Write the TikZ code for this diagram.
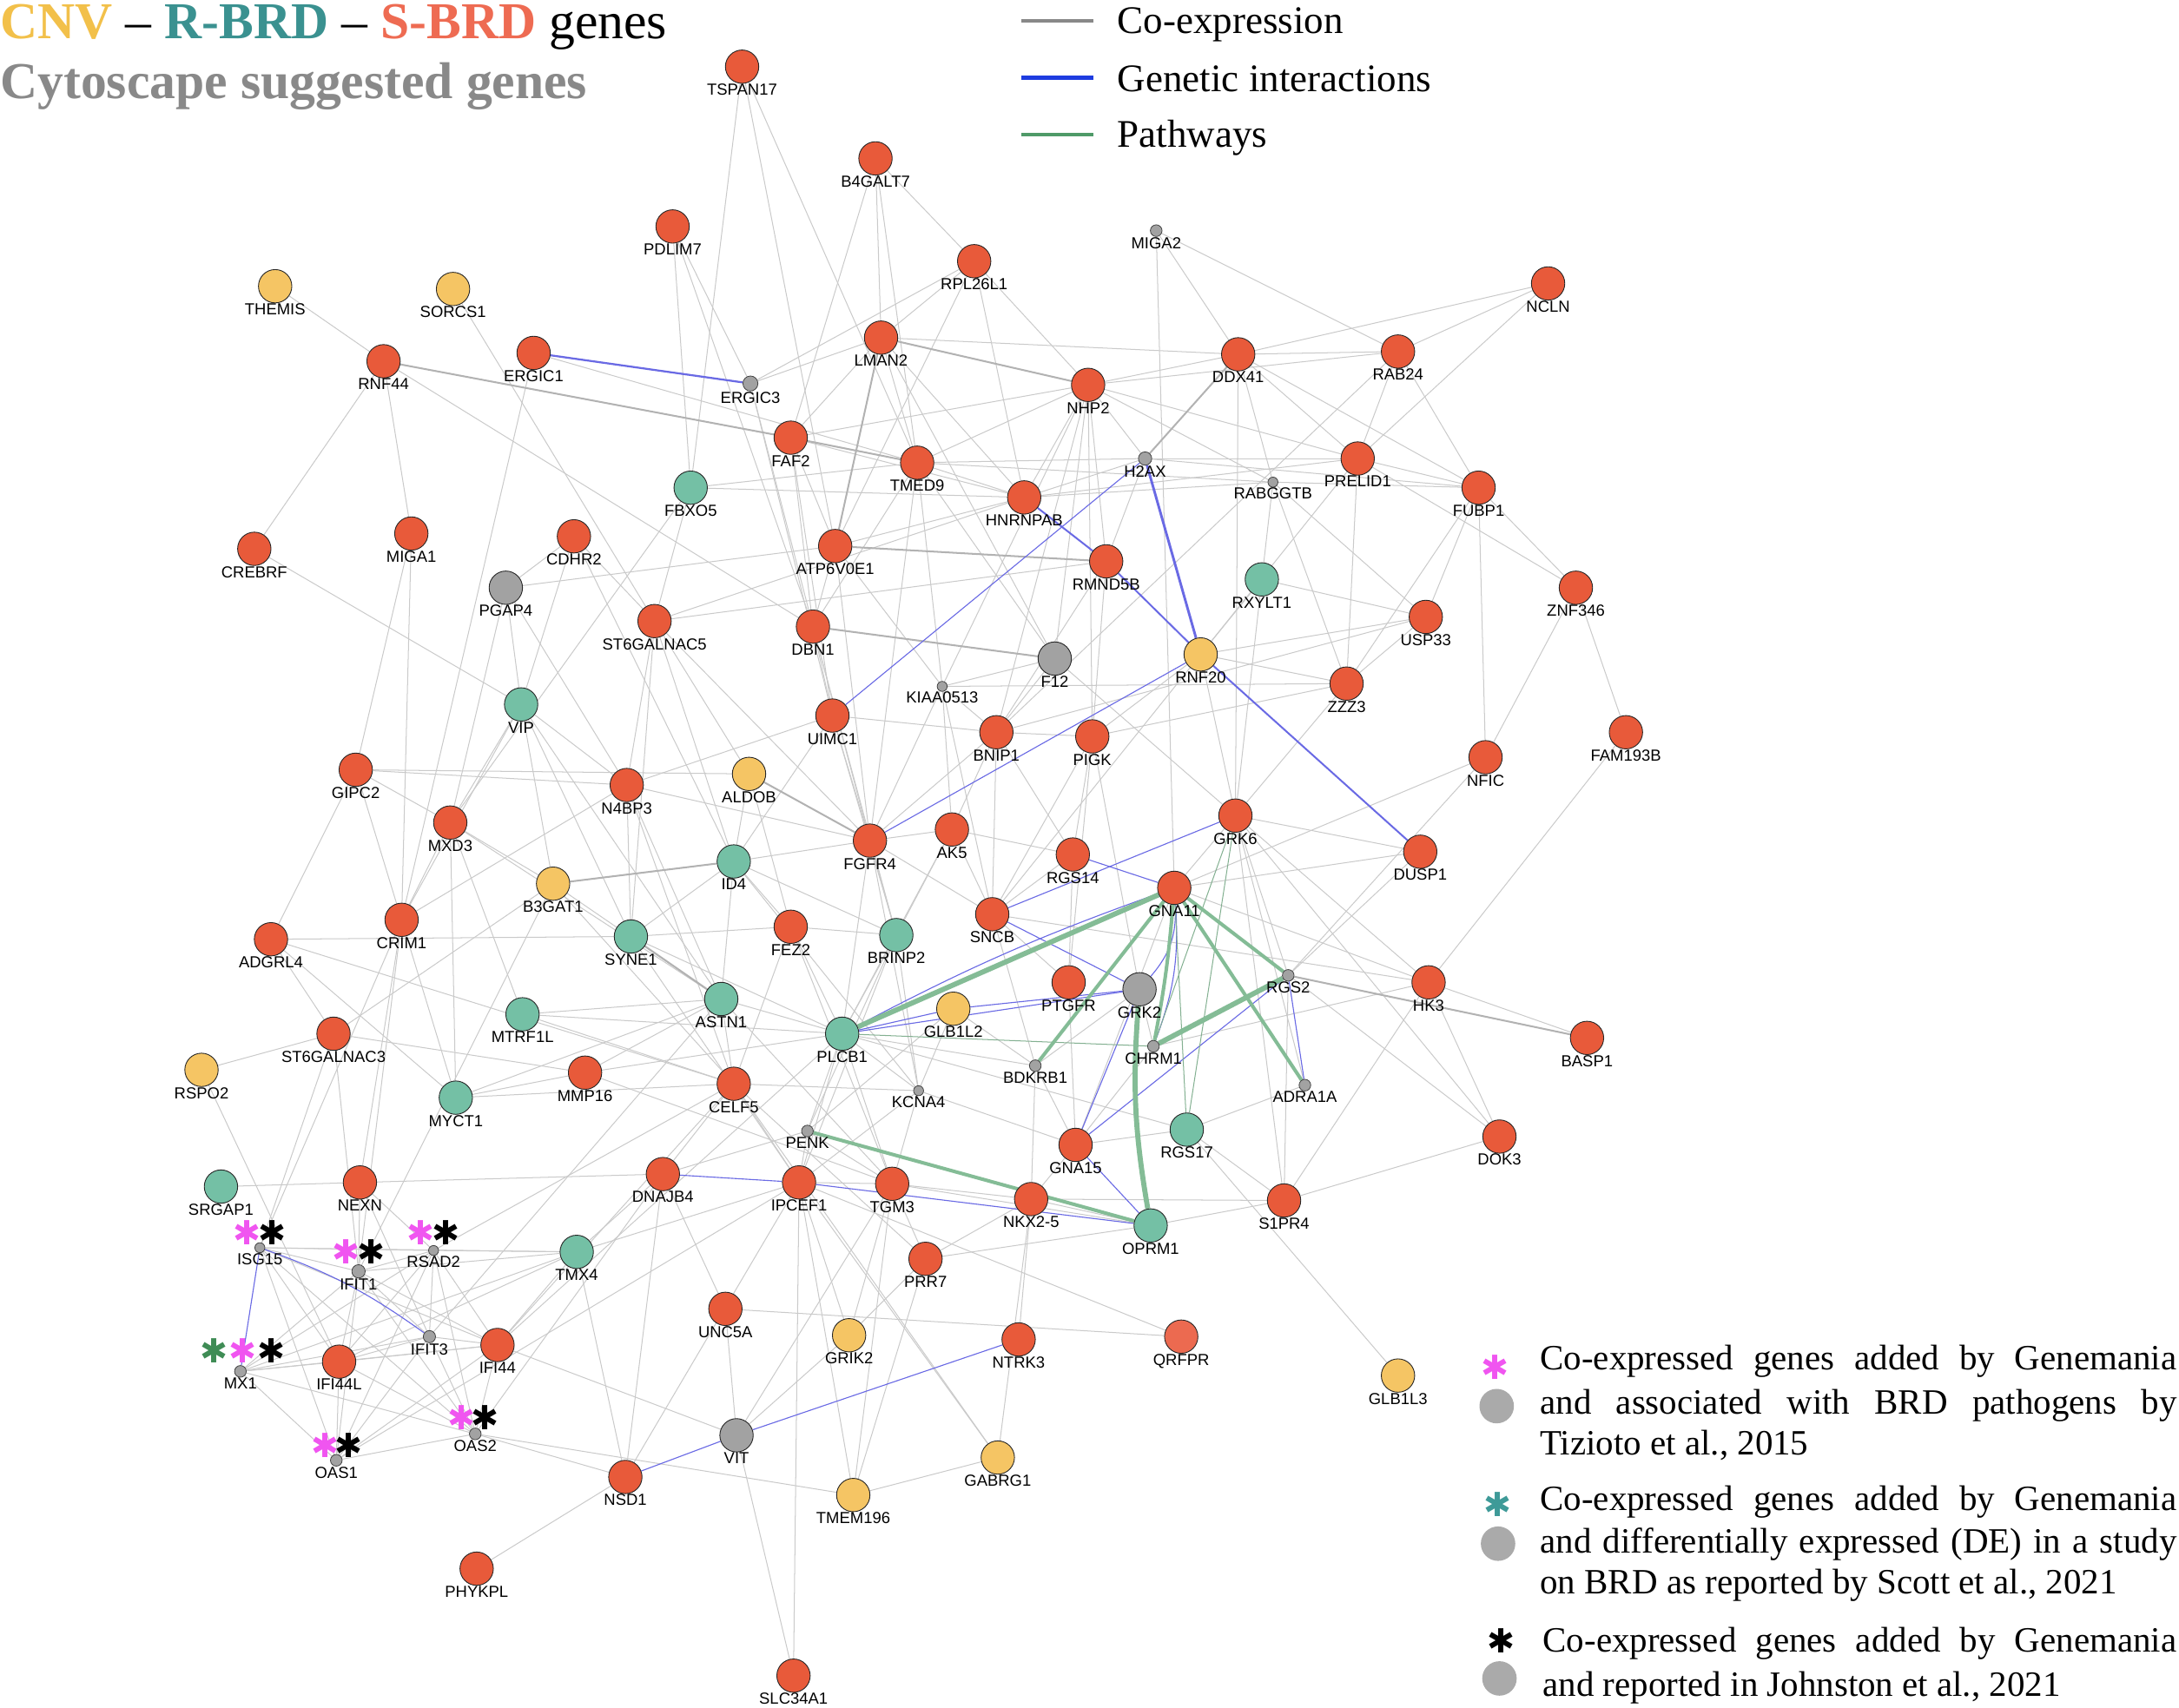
\documentclass[tikz,border=0pt]{standalone}
\usepackage{fontspec}
\setmainfont{Liberation Serif}
\newfontfamily\labfont{Liberation Sans}
\newfontfamily\symfont{DejaVu Sans}
\usetikzlibrary{backgrounds}
\definecolor{sred}{HTML}{E85A3A}
\definecolor{sredl}{HTML}{EC6A50}
\definecolor{rteal}{HTML}{74C0A5}
\definecolor{cyel}{HTML}{F5C564}
\definecolor{ngray}{HTML}{A2A2A2}
\definecolor{lgray}{HTML}{AAAAAA}
\definecolor{ecol}{HTML}{CACACA}
\definecolor{ecold}{HTML}{B2B2B2}
\definecolor{gblue}{HTML}{6A6AE4}
\definecolor{pgreen}{HTML}{84BC96}
\definecolor{tcnv}{HTML}{F2C04A}
\definecolor{trbrd}{HTML}{3A9190}
\definecolor{tsbrd}{HTML}{EE6B52}
\definecolor{tcyto}{HTML}{898989}
\definecolor{amag}{HTML}{F055F0}
\definecolor{ateal}{HTML}{3E9A98}
\definecolor{agreen}{HTML}{3F8C55}
\definecolor{leggray}{HTML}{888888}
\definecolor{legblue}{HTML}{1E3CE0}
\definecolor{leggreen}{HTML}{4F9A68}
\tikzset{
  lab/.style={font=\labfont\fontsize{8.2}{9}\selectfont, inner sep=0pt},
  gene/.style={circle, draw=black!85, line width=0.4pt, minimum size=0.6cm, inner sep=0pt, label distance=0.09cm},
  sr/.style={gene, fill=sred},
  srl/.style={gene, fill=sredl},
  rt/.style={gene, fill=rteal},
  cy/.style={gene, fill=cyel},
  gb/.style={gene, fill=ngray},
  gd/.style={circle, draw=black!75, line width=0.35pt, fill=ngray, minimum size=0.21cm, inner sep=0pt, label distance=0.09cm},
  co/.style={draw=ecol, line width=0.45pt},
  cot/.style={draw=ecold, line width=0.9pt},
  gi/.style={draw=gblue, line width=0.5pt},
  git/.style={draw=gblue, line width=1.3pt},
  pw/.style={draw=pgreen, line width=1.8pt},
  pwt/.style={draw=pgreen, line width=2.6pt},
  pwn/.style={draw=pgreen!80!gray, line width=0.45pt},
  ast/.style={font=\symfont\fontsize{17}{17}\selectfont, inner sep=0pt},
  legtxt/.style={font=\fontsize{18.2}{21}\selectfont, inner sep=0pt, anchor=base west},
  legline/.style={line width=2pt},
}
\newcommand\gnode[4]{\node[#1, label={[lab]below:#4}] (#2) at (#3) {};}
\begin{document}
\begin{tikzpicture}[x=0.025cm, y=-0.025cm]
\useasboundingbox (0,0) rectangle (1568,1229);
% ---------------- titles
\node[anchor=base west, inner sep=0pt, font=\fontsize{26.5}{30}\selectfont] (t1) at (0,28)
  {\textbf{\color{tcnv}CNV} – \textbf{\color{trbrd}R-BRD} – \textbf{\color{tsbrd}S-BRD} genes};
\node[anchor=base west, inner sep=0pt, font=\bfseries\fontsize{26.5}{30}\selectfont, text=tcyto] (t2) at (0,71)
  {Cytoscape suggested genes};
% ---------------- top legend
\coordinate (la1) at (735,15); \coordinate (lb1) at (787,15);
\coordinate (la2) at (735,56); \coordinate (lb2) at (787,56);
\coordinate (la3) at (735,97); \coordinate (lb3) at (787,97);
\draw[legline, leggray] (la1) -- (lb1);
\draw[legline, legblue] (la2) -- (lb2);
\draw[legline, leggreen] (la3) -- (lb3);
\node[anchor=base west, inner sep=0pt, font=\fontsize{20}{22}\selectfont] (lt1) at (804,24) {Co-expression};
\node[anchor=base west, inner sep=0pt, font=\fontsize{20}{22}\selectfont] (lt2) at (804,66) {Genetic interactions};
\node[anchor=base west, inner sep=0pt, font=\fontsize{20}{22}\selectfont] (lt3) at (804,106) {Pathways};
% ---------------- genes
\gnode{sr}{TSPAN17}{534,48}{TSPAN17}
\gnode{sr}{B4GALT7}{630,114}{B4GALT7}
\gnode{sr}{PDLIM7}{484,163}{PDLIM7}
\gnode{sr}{RPL26L1}{701,188}{RPL26L1}
\gnode{gd}{MIGA2}{832,166}{MIGA2}
\gnode{sr}{NCLN}{1114,204}{NCLN}
\gnode{cy}{THEMIS}{198,206}{THEMIS}
\gnode{cy}{SORCS1}{326,208}{SORCS1}
\gnode{sr}{RNF44}{276,260}{RNF44}
\gnode{sr}{ERGIC1}{384,254}{ERGIC1}
\gnode{gd,minimum size=0.27cm}{ERGIC3}{540,276}{ERGIC3}
\gnode{sr}{LMAN2}{634,243}{LMAN2}
\gnode{sr}{DDX41}{891,255}{DDX41}
\gnode{sr}{RAB24}{1006,253}{RAB24}
\gnode{sr}{NHP2}{783,277}{NHP2}
\gnode{sr}{FAF2}{569,315}{FAF2}
\gnode{sr}{TMED9}{660,333}{TMED9}
\gnode{gd,minimum size=0.24cm}{H2AX}{824,330}{H2AX}
\gnode{sr}{PRELID1}{977,330}{PRELID1}
\gnode{sr}{FUBP1}{1064,351}{FUBP1}
\gnode{rt}{FBXO5}{497,351}{FBXO5}
\gnode{sr}{HNRNPAB}{737,358}{HNRNPAB}
\gnode{gd,minimum size=0.18cm}{RABGGTB}{916,347}{RABGGTB}
\gnode{sr}{CREBRF}{183,395}{CREBRF}
\gnode{sr}{MIGA1}{296,384}{MIGA1}
\gnode{sr}{CDHR2}{413,386}{CDHR2}
\gnode{sr}{ATP6V0E1}{601,393}{ATP6V0E1}
\gnode{sr}{RMND5B}{796,404}{RMND5B}
\gnode{rt}{RXYLT1}{908,417}{RXYLT1}
\gnode{sr}{ZNF346}{1134,423}{ZNF346}
\gnode{gb}{PGAP4}{364,423}{PGAP4}
\gnode{sr}{ST6GALNAC5}{471,447}{ST6GALNAC5}
\gnode{sr}{DBN1}{585,451}{DBN1}
\gnode{sr}{USP33}{1026,444}{USP33}
\gnode{gb}{F12}{759,474}{F12}
\gnode{cy}{RNF20}{864,471}{RNF20}
\gnode{sr}{ZZZ3}{969,492}{ZZZ3}
\gnode{gd,minimum size=0.18cm}{KIAA0513}{678,494}{KIAA0513}
\gnode{rt}{VIP}{375,507}{VIP}
\gnode{sr}{UIMC1}{599,515}{UIMC1}
\gnode{sr}{BNIP1}{717,527}{BNIP1}
\gnode{sr}{PIGK}{786,530}{PIGK}
\gnode{sr}{FAM193B}{1170,527}{FAM193B}
\gnode{sr}{NFIC}{1069,545}{NFIC}
\gnode{sr}{GIPC2}{256,554}{GIPC2}
\gnode{cy}{ALDOB}{539,557}{ALDOB}
\gnode{sr}{N4BP3}{451,565}{N4BP3}
\gnode{sr}{MXD3}{324,592}{MXD3}
\gnode{sr}{GRK6}{889,587}{GRK6}
\gnode{sr}{FGFR4}{626,605}{FGFR4}
\gnode{sr}{AK5}{685,597}{AK5}
\gnode{sr}{RGS14}{772,615}{RGS14}
\gnode{sr}{DUSP1}{1022,613}{DUSP1}
\gnode{rt}{ID4}{528,620}{ID4}
\gnode{cy}{B3GAT1}{398,636}{B3GAT1}
\gnode{sr}{GNA11}{845,639}{GNA11}
\gnode{sr}{CRIM1}{289,662}{CRIM1}
\gnode{rt}{SYNE1}{454,674}{SYNE1}
\gnode{sr}{FEZ2}{569,667}{FEZ2}
\gnode{sr}{SNCB}{714,658}{SNCB}
\gnode{rt}{BRINP2}{645,673}{BRINP2}
\gnode{sr}{ADGRL4}{195,676}{ADGRL4}
\gnode{gd}{RGS2}{927,702}{RGS2}
\gnode{gb}{GRK2}{820,712}{GRK2}
\gnode{sr}{PTGFR}{769,707}{PTGFR}
\gnode{sr}{HK3}{1028,707}{HK3}
\gnode{rt}{ASTN1}{519,719}{ASTN1}
\gnode{rt}{MTRF1L}{376,730}{MTRF1L}
\gnode{cy}{GLB1L2}{686,726}{GLB1L2}
\gnode{rt}{PLCB1}{606,744}{PLCB1}
\gnode{sr}{ST6GALNAC3}{240,744}{ST6GALNAC3}
\gnode{gd}{CHRM1}{830,753}{CHRM1}
\gnode{sr}{BASP1}{1142,747}{BASP1}
\gnode{gd}{BDKRB1}{745,767}{BDKRB1}
\gnode{cy}{RSPO2}{145,770}{RSPO2}
\gnode{sr}{MMP16}{421,772}{MMP16}
\gnode{gd}{ADRA1A}{939,781}{ADRA1A}
\gnode{rt}{MYCT1}{328,790}{MYCT1}
\gnode{sr}{CELF5}{528,780}{CELF5}
\gnode{gd,minimum size=0.18cm}{KCNA4}{661,785}{KCNA4}
\gnode{gd}{PENK}{581,814}{PENK}
\gnode{rt}{RGS17}{854,813}{RGS17}
\gnode{sr}{DOK3}{1079,818}{DOK3}
\gnode{sr}{GNA15}{774,824}{GNA15}
\gnode{rt}{SRGAP1}{159,854}{SRGAP1}
\gnode{sr}{NEXN}{259,851}{NEXN}
\gnode{sr}{DNAJB4}{477,845}{DNAJB4}
\gnode{sr}{IPCEF1}{575,851}{IPCEF1}
\gnode{sr}{TGM3}{642,852}{TGM3}
\gnode{sr}{NKX25}{742,863}{NKX2-5}
\gnode{sr}{S1PR4}{924,864}{S1PR4}
\gnode{rt}{OPRM1}{828,882}{OPRM1}
\gnode{gd,minimum size=0.18cm}{ISG15}{187,898}{ISG15}
\gnode{gd,minimum size=0.18cm}{RSAD2}{312,900}{RSAD2}
\gnode{gd,minimum size=0.24cm}{IFIT1}{258,915}{IFIT1}
\gnode{rt}{TMX4}{415,901}{TMX4}
\gnode{sr}{PRR7}{666,906}{PRR7}
\gnode{gd,minimum size=0.22cm}{IFIT3}{309,962}{IFIT3}
\gnode{sr}{UNC5A}{522,942}{UNC5A}
\gnode{sr}{IFI44L}{244,980}{IFI44L}
\gnode{sr}{IFI44}{358,968}{IFI44}
\gnode{gd}{MX1}{173,987}{MX1}
\gnode{cy}{GRIK2}{611,961}{GRIK2}
\gnode{sr}{NTRK3}{733,964}{NTRK3}
\gnode{srl}{QRFPR}{850,962}{QRFPR}
\gnode{cy}{GLB1L3}{1006,990}{GLB1L3}
\gnode{gd}{OAS2}{342,1032}{OAS2}
\gnode{gb}{VIT}{530,1033}{VIT}
\gnode{gd}{OAS1}{242,1051}{OAS1}
\gnode{sr}{NSD1}{450,1063}{NSD1}
\gnode{cy}{GABRG1}{718,1049}{GABRG1}
\gnode{cy}{TMEM196}{614,1076}{TMEM196}
\gnode{sr}{PHYKPL}{343,1129}{PHYKPL}
\gnode{sr}{SLC34A1}{571,1206}{SLC34A1}
% ---------------- asterisks on genes
\node[ast, text=amag] (aISG15m) at (178,887) {✱};
\node[ast, text=black] (aISG15k) at (196,887) {✱};
\node[ast, text=amag] (aIFIT1m) at (249,901) {✱};
\node[ast, text=black] (aIFIT1k) at (267,901) {✱};
\node[ast, text=amag] (aRSAD2m) at (303,887) {✱};
\node[ast, text=black] (aRSAD2k) at (321,887) {✱};
\node[ast, text=agreen] (aMX1g) at (154,972) {✱};
\node[ast, text=amag] (aMX1m) at (175,972) {✱};
\node[ast, text=black] (aMX1k) at (195,972) {✱};
\node[ast, text=amag] (aOAS2m) at (332,1020) {✱};
\node[ast, text=black] (aOAS2k) at (349,1020) {✱};
\node[ast, text=amag] (aOAS1m) at (234,1040) {✱};
\node[ast, text=black] (aOAS1k) at (251,1040) {✱};
% ---------------- bottom-right legend
\node[ast, text=amag] (m1) at (1076,984) {✱};
\node[circle, fill=lgray, minimum size=0.62cm, inner sep=0pt] (c1) at (1077,1012) {};
\node[ast, text=ateal] (m2) at (1078,1083) {✱};
\node[circle, fill=lgray, minimum size=0.62cm, inner sep=0pt] (c2) at (1078,1111) {};
\node[ast, text=black] (m3) at (1080,1181) {✱};
\node[circle, fill=lgray, minimum size=0.62cm, inner sep=0pt] (c3) at (1079,1208) {};
\node[legtxt] (b1) at (1108,986) {\makebox[11.45cm][s]{Co-expressed genes added by Genemania}};
\node[legtxt] (b2) at (1108,1018) {\makebox[11.45cm][s]{and associated with BRD pathogens by}};
\node[legtxt] (b3) at (1108,1047) {Tizioto et al., 2015};
\node[legtxt] (b4) at (1108,1087) {\makebox[11.45cm][s]{Co-expressed genes added by Genemania}};
\node[legtxt] (b5) at (1108,1118) {\makebox[11.45cm][s]{and differentially expressed (DE) in a study}};
\node[legtxt] (b6) at (1108,1147) {on BRD as reported by Scott et al., 2021};
\node[legtxt] (b7) at (1110,1189) {\makebox[11.4cm][s]{Co-expressed genes added by Genemania}};
\node[legtxt] (b8) at (1110,1221) {and reported in Johnston et al., 2021};
% ---------------- edges
\begin{pgfonlayer}{background}
\foreach \a/\b in {
 TSPAN17/FBXO5, TSPAN17/TMED9, TSPAN17/ATP6V0E1,
 B4GALT7/LMAN2, B4GALT7/RPL26L1, B4GALT7/TMED9, B4GALT7/FAF2,
 PDLIM7/FBXO5, PDLIM7/ERGIC3, PDLIM7/DBN1,
 RPL26L1/LMAN2, RPL26L1/NHP2, RPL26L1/ERGIC3, RPL26L1/HNRNPAB, RPL26L1/ATP6V0E1,
 MIGA2/DDX41, MIGA2/RAB24, MIGA2/GNA11,
 NCLN/DDX41, NCLN/RAB24, NCLN/PRELID1,
 THEMIS/RNF44, SORCS1/ST6GALNAC5,
 RNF44/CREBRF, RNF44/MIGA1, RNF44/DBN1,
 ERGIC1/TMED9, ERGIC1/CRIM1,
 ERGIC3/LMAN2, ERGIC3/DBN1, ERGIC3/UIMC1,
 LMAN2/FAF2, LMAN2/TMED9, LMAN2/F12, LMAN2/HNRNPAB,
 DDX41/RAB24, DDX41/PRELID1, DDX41/NHP2, DDX41/GRK6, DDX41/LMAN2, DDX41/RABGGTB, DDX41/FUBP1,
 RAB24/PRELID1, RAB24/FUBP1, RAB24/NHP2, RAB24/BNIP1,
 NHP2/FAF2, NHP2/HNRNPAB, NHP2/RMND5B, NHP2/TMED9, NHP2/KIAA0513, NHP2/F12, NHP2/PRELID1,
 NHP2/H2AX, NHP2/BNIP1, NHP2/PIGK,
 FAF2/HNRNPAB, FAF2/DBN1, FAF2/ATP6V0E1, FAF2/UIMC1,
 TMED9/H2AX, TMED9/HNRNPAB, TMED9/FBXO5, TMED9/DBN1, TMED9/F12, TMED9/KIAA0513, TMED9/RABGGTB, TMED9/FGFR4,
 H2AX/HNRNPAB, H2AX/RMND5B, H2AX/PRELID1, H2AX/FUBP1,
 PRELID1/FUBP1, PRELID1/ZZZ3, PRELID1/ZNF346, PRELID1/RNF20, PRELID1/HNRNPAB,
 FUBP1/RABGGTB, FUBP1/USP33, FUBP1/ZZZ3, FUBP1/ZNF346, FUBP1/NFIC,
 FBXO5/HNRNPAB, FBXO5/ST6GALNAC5, FBXO5/MXD3,
 HNRNPAB/ATP6V0E1, HNRNPAB/ST6GALNAC5, HNRNPAB/RABGGTB,
 RABGGTB/RXYLT1, RABGGTB/ZZZ3, RABGGTB/USP33, RABGGTB/NHP2,
 CREBRF/VIP, MIGA1/GIPC2, MIGA1/CRIM1,
 CDHR2/PGAP4, CDHR2/ST6GALNAC5, CDHR2/VIP, CDHR2/ID4,
 ATP6V0E1/DBN1, ATP6V0E1/FGFR4, ATP6V0E1/PGAP4, ATP6V0E1/KIAA0513,
 RMND5B/ST6GALNAC5, RMND5B/PIGK, RMND5B/BNIP1,
 RXYLT1/USP33, RXYLT1/RNF20, RXYLT1/GRK6,
 ZNF346/NFIC, ZNF346/FAM193B,
 PGAP4/VIP, PGAP4/N4BP3, PGAP4/MXD3,
 ST6GALNAC5/N4BP3, ST6GALNAC5/ID4, ST6GALNAC5/FGFR4, ST6GALNAC5/SYNE1, ST6GALNAC5/ALDOB,
 DBN1/UIMC1, DBN1/FGFR4, DBN1/BRINP2,
 USP33/RNF20, USP33/ZZZ3, USP33/BNIP1,
 F12/KIAA0513, F12/GRK6, F12/BNIP1,
 RNF20/ZZZ3, RNF20/GRK6, RNF20/PIGK, RNF20/SNCB,
 ZZZ3/KIAA0513, ZZZ3/PIGK, ZZZ3/GRK6,
 KIAA0513/BNIP1, KIAA0513/FGFR4, KIAA0513/SNCB, KIAA0513/AK5,
 VIP/B3GAT1, VIP/SYNE1, VIP/MXD3, VIP/ASTN1, VIP/N4BP3,
 UIMC1/FGFR4, UIMC1/N4BP3, UIMC1/ID4, UIMC1/BRINP2, UIMC1/BNIP1,
 BNIP1/SNCB, BNIP1/AK5, BNIP1/FGFR4, BNIP1/PIGK, BNIP1/RGS14,
 PIGK/RGS14, PIGK/GRK2, PIGK/SNCB, PIGK/PTGFR,
 NFIC/GNA11, NFIC/RGS2, FAM193B/HK3,
 GIPC2/N4BP3, GIPC2/MXD3, GIPC2/ADGRL4, GIPC2/MYCT1, GIPC2/ALDOB,
 ALDOB/ID4, ALDOB/FEZ2,
 N4BP3/SYNE1, N4BP3/ASTN1, N4BP3/CELF5, N4BP3/CRIM1, N4BP3/FGFR4,
 MXD3/B3GAT1, MXD3/MTRF1L, MXD3/ASTN1, MXD3/MYCT1, MXD3/CRIM1,
 GRK6/GNA11, GRK6/RGS2, GRK6/HK3, GRK6/DUSP1, GRK6/DOK3, GRK6/S1PR4, GRK6/ADRA1A,
 FGFR4/BRINP2, FGFR4/AK5, FGFR4/PLCB1, FGFR4/SNCB,
 AK5/SNCB, AK5/BRINP2, AK5/RGS14, RGS14/SNCB, RGS14/PTGFR,
 DUSP1/GNA11, DUSP1/RGS2,
 ID4/FEZ2, ID4/SYNE1, ID4/ASTN1, ID4/BRINP2, ID4/FGFR4,
 B3GAT1/ASTN1, B3GAT1/CELF5, B3GAT1/ST6GALNAC3,
 GNA11/HK3, GNA11/DOK3, GNA11/GNA15,
 CRIM1/NEXN, CRIM1/IFIT1, CRIM1/VIP,
 SYNE1/FEZ2, SYNE1/PLCB1, SYNE1/ADGRL4,
 FEZ2/BRINP2, FEZ2/PLCB1, FEZ2/CELF5,
 SNCB/HK3, SNCB/BDKRB1,
 BRINP2/PLCB1, BRINP2/KCNA4, BRINP2/PENK,
 ADGRL4/ST6GALNAC3, ADGRL4/MYCT1, ADGRL4/CELF5,
 RGS2/S1PR4, GRK2/CHRM1, GRK2/BDKRB1, PTGFR/GNA15,
 HK3/BASP1, HK3/DOK3, HK3/S1PR4, HK3/CHRM1,
 ASTN1/PLCB1, ASTN1/CELF5, ASTN1/MTRF1L, ASTN1/MMP16,
 MTRF1L/CELF5, MTRF1L/PLCB1, GLB1L2/KCNA4, GLB1L2/PENK,
 PLCB1/PENK, PLCB1/IPCEF1, PLCB1/TGM3, PLCB1/KCNA4, PLCB1/RGS17, PLCB1/BDKRB1,
 ST6GALNAC3/RSPO2, ST6GALNAC3/MMP16, ST6GALNAC3/ISG15, ST6GALNAC3/IFIT1,
 CHRM1/GNA15, BDKRB1/GNA15, BDKRB1/NKX25, RSPO2/IFI44L,
 MMP16/MYCT1, MMP16/PLCB1, ADRA1A/RGS17,
 MYCT1/CELF5, MYCT1/ASTN1,
 CELF5/DNAJB4, CELF5/IPCEF1, CELF5/KCNA4, CELF5/GABRG1,
 KCNA4/TGM3, KCNA4/IPCEF1, PENK/IPCEF1, PENK/DNAJB4, PENK/TGM3,
 RGS17/GNA15, RGS17/S1PR4, RGS17/GLB1L3, DOK3/S1PR4,
 GNA15/NKX25, GNA15/KCNA4, SRGAP1/NEXN,
 NEXN/IFIT1, NEXN/IFIT3, NEXN/DNAJB4, NEXN/RSAD2,
 DNAJB4/TMX4, DNAJB4/UNC5A,
 IPCEF1/TGM3, IPCEF1/SLC34A1, IPCEF1/QRFPR, IPCEF1/TMEM196, IPCEF1/GRIK2, IPCEF1/TMX4, IPCEF1/NSD1,
 TGM3/PRR7, TGM3/GRIK2, TGM3/TMEM196, TGM3/NKX25,
 NKX25/NTRK3, NKX25/PRR7, NKX25/OPRM1, S1PR4/OPRM1, S1PR4/NKX25,
 OPRM1/PRR7, OPRM1/TGM3,
 TMX4/RSAD2, TMX4/IFIT1, TMX4/ISG15, TMX4/NSD1, TMX4/IFI44,
 PRR7/GRIK2, PRR7/TMEM196, UNC5A/QRFPR, UNC5A/VIT,
 VIT/GRIK2, VIT/TGM3, VIT/SLC34A1, VIT/IFI44,
 GABRG1/TMEM196, GABRG1/IPCEF1, GABRG1/NKX25,
 OAS2/TMEM196, OAS2/NSD1, NSD1/PHYKPL, NSD1/DNAJB4,
 ISG15/IFIT1, ISG15/RSAD2, ISG15/IFI44L, ISG15/IFI44, ISG15/OAS1, ISG15/OAS2,
 IFIT1/RSAD2, IFIT1/IFIT3, IFIT1/MX1, IFIT1/IFI44L, IFIT1/IFI44, IFIT1/OAS1, IFIT1/OAS2,
 RSAD2/IFIT3, RSAD2/MX1, RSAD2/IFI44L, RSAD2/IFI44, RSAD2/OAS1, RSAD2/OAS2,
 IFIT3/MX1, IFIT3/IFI44L, IFIT3/IFI44, IFIT3/OAS1, IFIT3/OAS2,
 MX1/IFI44L, MX1/IFI44, MX1/OAS1, MX1/OAS2,
 IFI44L/IFI44, IFI44L/OAS1, IFI44L/OAS2, IFI44/OAS1, IFI44/OAS2, OAS1/OAS2,
 IFI44/CELF5, IFI44/PLCB1, IFIT3/ASTN1, RSAD2/CELF5, IFI44L/TMX4,
 OAS1/IPCEF1, OAS2/DNAJB4, MX1/TMX4, ISG15/CRIM1, IFIT1/B3GAT1,
 ASTN1/TGM3, SYNE1/IPCEF1, MMP16/TGM3, CELF5/PRR7, ID4/KCNA4, FEZ2/TGM3,
 BRINP2/IPCEF1, AK5/PLCB1, SNCB/PTGFR, GLB1L2/BDKRB1, FGFR4/KCNA4}
 \draw[co] (\a) -- (\b);
\foreach \a/\b in {RNF44/FAF2, LMAN2/ATP6V0E1, DBN1/F12, H2AX/DDX41, SYNE1/ASTN1, LMAN2/NHP2,
 B3GAT1/ID4, ALDOB/FGFR4, ATP6V0E1/RMND5B, FAF2/TMED9, RGS2/BASP1}
 \draw[cot] (\a) -- (\b);
% genetic interactions
\foreach \a/\b in {UIMC1/H2AX, FGFR4/RNF20, SNCB/GRK6, RGS14/GNA11, SNCB/GRK2,
 PLCB1/GLB1L2, GLB1L2/GRK2, PLCB1/GRK2, GRK2/GNA15, RGS2/GNA15, RGS2/ADRA1A, GNA15/OPRM1,
 DNAJB4/IPCEF1, IPCEF1/OPRM1, NSD1/VIT, VIT/NTRK3, ISG15/MX1}
 \draw[gi] (\a) -- (\b);
\draw[gi] (PLCB1) to[bend left=4] (GNA11);
\draw[gi] (GNA11) to[bend left=22] (GRK2);
\draw[gi] (GNA11) to[bend left=12] (CHRM1);
\draw[gi] (ISG15) to[bend left=8] (IFIT3);
\foreach \a/\b in {HNRNPAB/RMND5B, RMND5B/RNF20, RNF20/DUSP1}
 \draw[gi, line width=0.9pt] (\a) -- (\b);
\draw[gi, line width=1pt] (ERGIC1) -- (ERGIC3);
\draw[git] (H2AX) -- (RNF20);
% pathways
\foreach \a/\b in {GNA11/RGS17, GRK6/CHRM1, PLCB1/CHRM1, GRK6/RGS17}
 \draw[pwn] (\a) -- (\b);
\foreach \a/\b in {GNA11/BDKRB1, GNA11/RGS2, GNA11/ADRA1A, PENK/OPRM1}
 \draw[pw] (\a) -- (\b);
\draw[pw] (GNA11) to[bend left=3] (CHRM1);
\draw[pwt] (GNA11) -- (PLCB1);
\draw[pwt] (CHRM1) -- (RGS2);
\draw[pwt] (GRK2) to[bend right=7] (OPRM1);
\end{pgfonlayer}
\end{tikzpicture}
\end{document}
